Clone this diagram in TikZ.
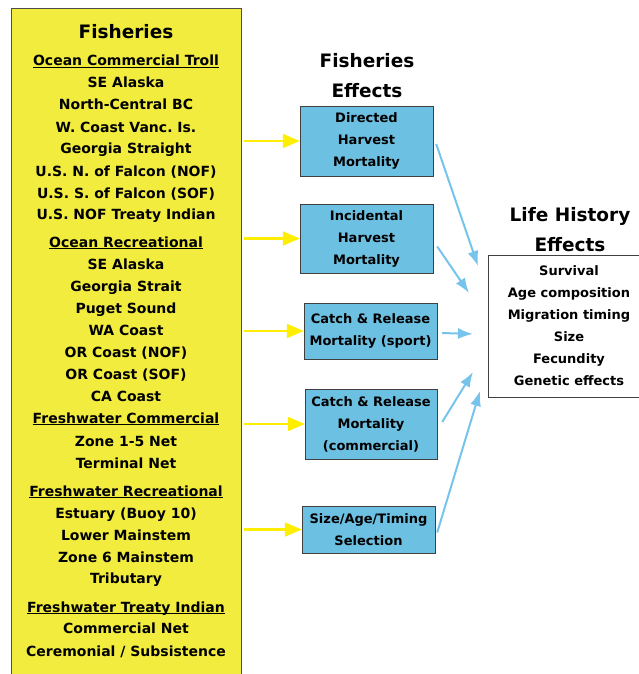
\documentclass[tikz,border=0pt]{standalone}
\usepackage{fontspec}
\setmainfont{DejaVu Sans}
\usepackage{xcolor}
\usepackage{tikz}
\usetikzlibrary{arrows.meta,positioning}
\definecolor{fishyellow}{RGB}{242,236,62}
\definecolor{feedyellow}{RGB}{255,238,0}
\definecolor{effectblue}{RGB}{108,192,226}
\definecolor{linkblue}{RGB}{118,196,236}
\newcommand{\ulhead}[1]{\underline{\smash{#1}}}
\frenchspacing

\begin{document}
\begin{tikzpicture}[x=1pt,y=-1pt,
  listitem/.style={inner sep=0pt, text height=10pt, text depth=0pt,
    font=\bfseries\fontsize{14}{16}\selectfont},
  title/.style={inner sep=0pt, align=center,
    font=\bfseries\fontsize{18.5}{30}\selectfont},
  effect/.style={draw=black!75, fill=effectblue, inner sep=0pt,
    align=center, font=\bfseries\fontsize{13}{22}\selectfont},
  feed/.style={feedyellow, line width=2.2pt, shorten <=3pt,
    -{Triangle[length=17pt,width=14pt]}},
  link/.style={linkblue, line width=2pt,
    -{Latex[length=15pt,width=11pt]}}]
\useasboundingbox (0,0) rectangle (639,674);
% fisheries column
\node[draw=black!70, fill=fishyellow, minimum width=230pt, minimum height=680pt,
  anchor=north west, inner sep=0pt] (fish) at (11,8) {};
\node[inner sep=0pt, font=\bfseries\fontsize{18.5}{22}\selectfont] (fishtitle) at (126,32) {Fisheries};
\foreach \y/\t [count=\i] in {
  61/{\ulhead{Ocean Commercial Troll}}, 83/SE Alaska, 105/North-Central BC,
  127/W. Coast Vanc. Is., 148/Georgia Straight, 171/U.S. N. of Falcon (NOF),
  193/U.S. S. of Falcon (SOF), 214/U.S. NOF Treaty Indian,
  242/{\ulhead{Ocean Recreational}}, 264/SE Alaska, 286/Georgia Strait,
  308/Puget Sound, 330/WA Coast, 352/OR Coast (NOF), 374/OR Coast (SOF),
  396/CA Coast,
  418/{\ulhead{Freshwater Commercial}}, 441/Zone 1-5 Net, 463/Terminal Net,
  491/{\ulhead{Freshwater Recreational}}, 513/Estuary (Buoy 10),
  535/Lower Mainstem, 557/Zone 6 Mainstem, 578/Tributary,
  607/{\ulhead{Freshwater Treaty Indian}}, 628/Commercial Net,
  651/{Ceremonial / Subsistence}}
  \node[listitem] (fish\i) at (126,\y) {\t};
% fisheries effects
\node[title] (efftitle) at (367,76) {Fisheries\\Effects};
\node[effect, minimum width=133pt, minimum height=70pt] (directed) at (366.5,141)
  {Directed\\Harvest\\Mortality};
\node[effect, minimum width=133pt, minimum height=69pt] (incidental) at (366.5,238.5)
  {Incidental\\Harvest\\Mortality};
\node[effect, minimum width=133pt, minimum height=56pt] (sport) at (370.5,331)
  {Catch \& Release\\Mortality (sport)};
\node[effect, minimum width=132pt, minimum height=70pt] (commercial) at (371,424)
  {Catch \& Release\\Mortality\\(commercial)};
\node[effect, minimum width=133pt, minimum height=47pt] (selection) at (368.5,529.5)
  {Size/Age/Timing\\Selection};
% life history effects
\node[title] (lifetitle) at (570,230) {Life History\\Effects};
\node[draw=black!75, fill=white, minimum width=162pt, minimum height=142pt, inner sep=0pt,
  align=center, font=\bfseries\fontsize{13}{22}\selectfont] (life) at (569,326)
  {Survival\\Age composition\\Migration timing\\Size\\Fecundity\\Genetic effects};
% fisheries -> effects
\foreach \b in {directed,incidental,sport,commercial,selection}
  \draw[feed] (fish.east |- \b.west) -- (\b.west);
% effects -> life history
\coordinate (hit1) at (478,266);
\coordinate (hit2) at (469,293);
\coordinate (hit3) at (473,334);
\coordinate (hit4) at (473,372);
\coordinate (hit5) at (480,391);
\draw[link] ([xshift=3pt,yshift=-3pt]directed.east) -- (hit1);
\draw[link] ([xshift=4pt,yshift=-8pt]incidental.east) -- (hit2);
\draw[link] ([xshift=5pt,yshift=-2pt]sport.east) -- (hit3);
\draw[link] ([xshift=5pt,yshift=2pt]commercial.east) -- (hit4);
\draw[link] ([xshift=2pt,yshift=-3pt]selection.east) -- (hit5);
\end{tikzpicture}
\end{document}
